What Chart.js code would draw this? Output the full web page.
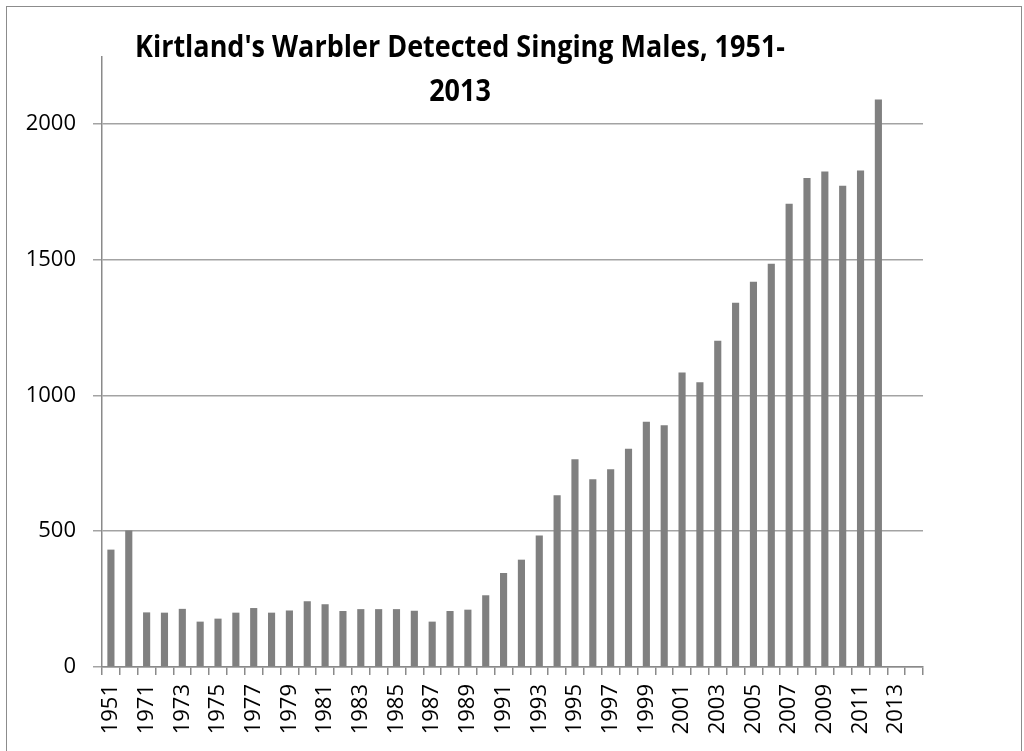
<!DOCTYPE html>
<html>
<head>
<meta charset="utf-8">
<script src="https://cdn.jsdelivr.net/npm/chart.js@4.4.0/dist/chart.umd.min.js"></script>
<style>
    body { margin: 0; background: #fff; }
    #wrap { position: relative; width: 1024px; height: 751px; overflow: hidden; }
</style>
</head>
<body>
<div id="wrap"><canvas id="warbler_chart" width="1024" height="751"></canvas></div>
<script>
// survey years (1951 and 1961 were single counts, annual from 1971)
var years = ['1951', '1961', '1971', '1972', '1973', '1974', '1975', '1976', '1977', '1978',
    '1979', '1980', '1981', '1982', '1983', '1984', '1985', '1986', '1987', '1988',
    '1989', '1990', '1991', '1992', '1993', '1994', '1995', '1996', '1997', '1998',
    '1999', '2000', '2001', '2002', '2003', '2004', '2005', '2006', '2007', '2008',
    '2009', '2010', '2011', '2012', '2013', '2014'];
var singing_males = [432, 502, 201, 200, 214, 167, 178, 200, 217, 200,
    208, 242, 231, 206, 213, 213, 213, 207, 167, 206,
    211, 264, 346, 395, 484, 632, 765, 691, 728, 803,
    903, 890, 1084, 1048, 1201, 1341, 1418, 1484, 1705, 1800,
    1824, 1771, 1827, 2089, null, null];
var y_ticks = [0, 500, 1000, 1500, 2000];
var title_lines = ["Kirtland's Warbler Detected Singing Males, 1951-", '2013'];

var axis_color = '#8a8a8a';
var grid_color = '#a3a3a3';
var tick_font = { family: "'Open Sans', 'Liberation Sans', sans-serif", size: 22 };

// frame round the chart and the overlapping title (Excel style)
var frame_and_title = {
    id: 'frame_and_title',
    beforeDraw: function (chart) {
        var ctx = chart.ctx;
        ctx.save();
        ctx.fillStyle = '#fff';
        ctx.fillRect(0, 0, chart.width, chart.height);
        ctx.strokeStyle = '#8c8c8c';
        ctx.lineWidth = 1;
        ctx.strokeRect(6.5, 6.5, 1015, 800);
        ctx.restore();
    },
    afterDraw: function (chart) {
        var ctx = chart.ctx;
        ctx.save();
        ctx.font = "bold 31px 'Open Sans', 'Liberation Sans', sans-serif";
        var w = ctx.measureText(title_lines[0]).width;
        var sx = Math.min(1, 650 / w);
        ctx.fillStyle = '#000';
        ctx.textAlign = 'center';
        ctx.textBaseline = 'alphabetic';
        ctx.translate(460, 0);
        ctx.scale(sx, 1);
        ctx.fillText(title_lines[0], 0, 57);
        ctx.fillText(title_lines[1], 0, 101);
        ctx.restore();
    }
};

var ctx = document.getElementById('warbler_chart');
var warbler_chart = new Chart(ctx, {
    type: 'bar',
    data: {
        labels: years,
        datasets: [{
            data: singing_males,
            backgroundColor: '#808080',
            borderWidth: 0,
            barPercentage: 0.4,
            categoryPercentage: 1.0
        }]
    },
    options: {
        responsive: false,
        animation: false,
        layout: { padding: { top: 57, right: 101, left: 0, bottom: 0 } },
        plugins: {
            legend: { display: false },
            title: { display: false },
            tooltip: { enabled: false }
        },
        scales: {
            x: {
                offset: true,
                grid: {
                    offset: true,
                    drawOnChartArea: false,
                    drawTicks: true,
                    tickLength: 8,
                    color: axis_color,
                    lineWidth: 1.5
                },
                border: { display: true, color: axis_color, width: 1.5 },
                ticks: {
                    autoSkip: false,
                    minRotation: 90,
                    maxRotation: 90,
                    padding: 9,
                    color: '#000',
                    font: tick_font,
                    callback: function (value, index) {
                        return index % 2 === 0 ? this.getLabelForValue(value) : '';
                    }
                },
                afterFit: function (scale) { scale.height = 84; }
            },
            y: {
                min: 0,
                max: 2245,
                grid: {
                    color: grid_color,
                    lineWidth: 1.5,
                    tickLength: 9
                },
                border: { display: true, color: axis_color, width: 1.5 },
                ticks: {
                    stepSize: 500,
                    padding: 17,
                    color: '#000',
                    font: tick_font,
                    callback: function (value) { return String(value); }
                },
                afterBuildTicks: function (scale) {
                    scale.ticks = y_ticks.map(function (v) { return { value: v }; });
                },
                afterFit: function (scale) { scale.width = 102; }
            }
        }
    },
    plugins: [frame_and_title]
});
</script>
</body>
</html>
